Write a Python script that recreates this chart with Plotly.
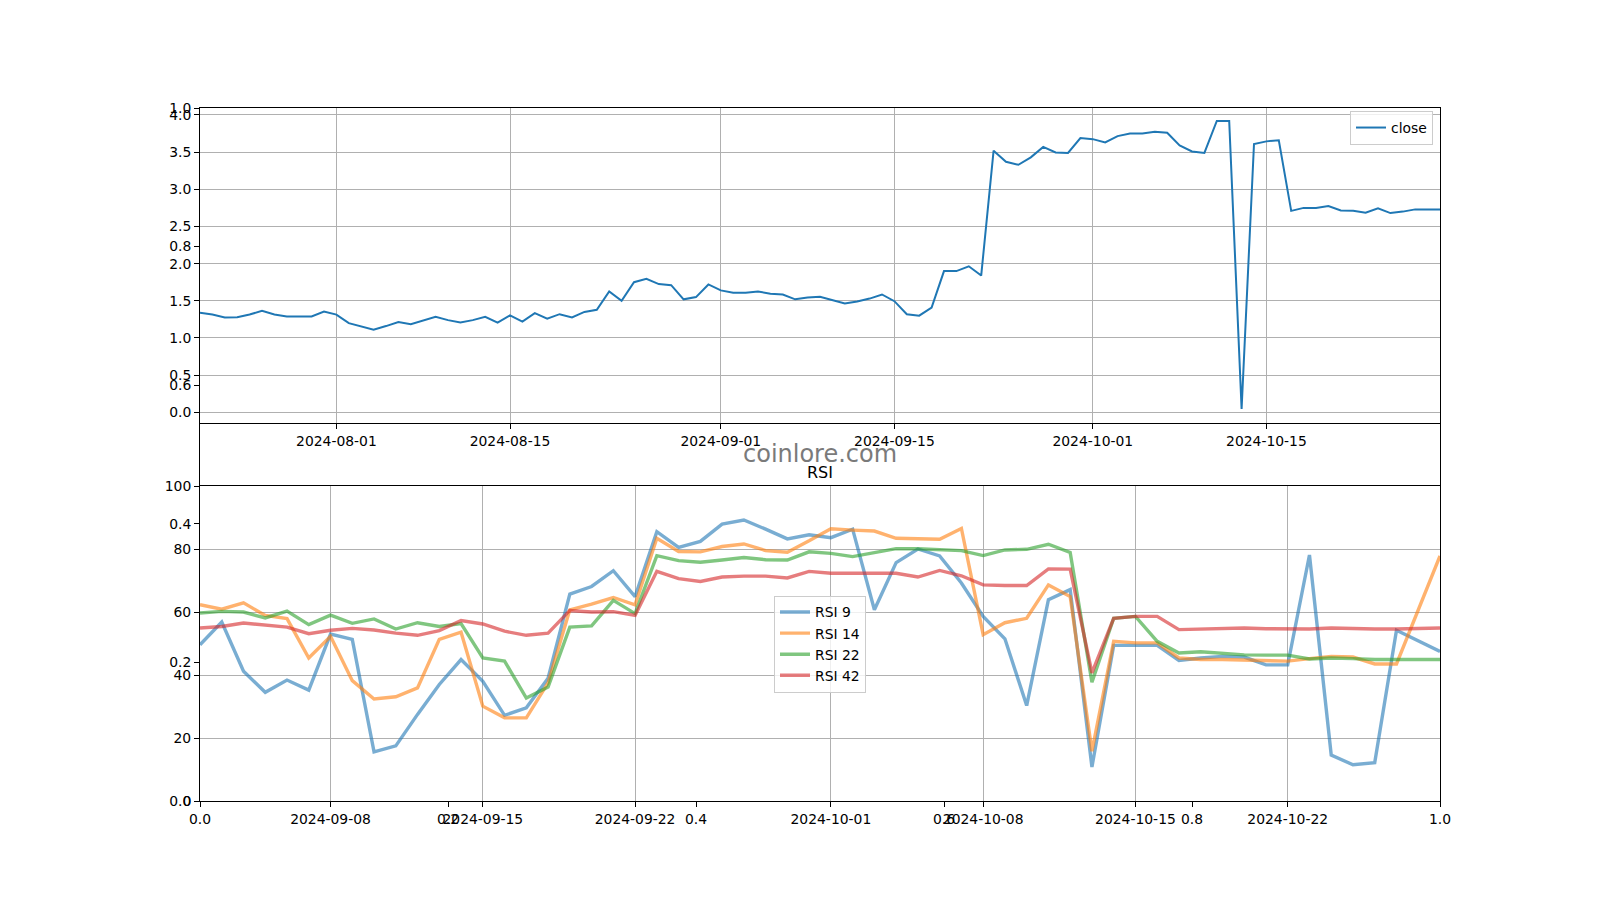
import pandas as pd
import plotly.graph_objects as go

# ---------------- data ----------------
close_start = "2024-07-21"
close_values = [
    1.338, 1.315, 1.275, 1.28, 1.315, 1.365, 1.315, 1.29, 1.29, 1.29,
    1.355, 1.315, 1.20, 1.16, 1.11, 1.16, 1.215, 1.185, 1.24, 1.285,
    1.24, 1.21, 1.24, 1.285, 1.205, 1.305, 1.22, 1.335, 1.26, 1.32,
    1.275, 1.35, 1.38, 1.626, 1.50, 1.75, 1.795, 1.725, 1.71, 1.52,
    1.55, 1.72, 1.64, 1.61, 1.61, 1.625, 1.595, 1.585, 1.52, 1.545,
    1.555, 1.515, 1.465, 1.49, 1.53, 1.585, 1.495, 1.32, 1.30, 1.41,
    1.90, 1.90, 1.964, 1.84, 3.52, 3.37, 3.33, 3.43, 3.57, 3.495,
    3.49, 3.69, 3.675, 3.63, 3.716, 3.75, 3.75, 3.775, 3.76, 3.59,
    3.51, 3.49, 3.92, 3.92, 0.045, 3.61, 3.645, 3.66, 2.71, 2.75,
    2.75, 2.775, 2.715, 2.71, 2.685, 2.745, 2.68, 2.70, 2.73, 2.73,
    2.73,
]
close_dates = pd.date_range(close_start, periods=len(close_values), freq="D")

rsi_start = "2024-09-02"
rsi_9 = [
    49.6, 56.8, 41.2, 34.5, 38.4, 35.2, 53.0, 51.3, 15.6, 17.5,
    27.5, 37.0, 44.9, 38.0, 27.2, 29.6, 39.0, 65.7, 68.1, 73.1,
    64.9, 85.5, 80.5, 82.4, 87.9, 89.2, 86.3, 83.2, 84.5, 83.6,
    86.3, 60.7, 75.7, 80.0, 77.8, 69.2, 58.6, 51.5, 30.3, 63.9,
    67.1, 10.8, 49.4, 49.4, 49.4, 44.6, 45.4, 45.9, 45.7, 43.2,
    43.2, 78.1, 14.6, 11.5, 12.2, 54.2, 50.7, 47.5,
]
rsi_14 = [
    62.3, 60.9, 62.9, 58.9, 57.9, 45.4, 52.3, 38.2, 32.4, 33.1,
    35.9, 51.3, 53.6, 30.1, 26.4, 26.4, 37.5, 60.7, 62.5, 64.6,
    62.3, 83.4, 79.2, 79.1, 80.8, 81.6, 79.5, 79.0, 82.6, 86.4,
    86.0, 85.7, 83.4, 83.3, 83.1, 86.5, 52.8, 56.6, 58.0, 68.6,
    64.9, 15.8, 50.7, 50.2, 50.2, 45.4, 44.9, 44.9, 44.7, 44.4,
    44.4, 45.2, 45.9, 45.7, 43.5, 43.5, 60.7, 77.8,
]
rsi_22 = [
    59.7, 60.2, 60.0, 58.1, 60.3, 56.0, 59.0, 56.4, 57.8, 54.6,
    56.6, 55.4, 56.3, 45.4, 44.4, 32.7, 36.2, 55.2, 55.6, 63.7,
    59.5, 77.9, 76.3, 75.8, 76.5, 77.3, 76.6, 76.5, 79.1, 78.6,
    77.6, 78.9, 80.1, 80.1, 79.9, 79.5, 77.9, 79.7, 79.9, 81.5,
    78.9, 37.7, 58.0, 58.6, 50.7, 47.0, 47.4, 46.9, 46.4, 46.3,
    46.3, 45.1, 45.4, 45.2, 44.9, 44.9, 44.9, 44.9,
]
rsi_42 = [
    54.9, 55.4, 56.5, 55.9, 55.2, 53.1, 54.2, 54.8, 54.3, 53.3,
    52.6, 54.1, 57.3, 56.2, 53.9, 52.6, 53.3, 60.5, 60.0, 60.1,
    58.9, 72.9, 70.6, 69.7, 71.1, 71.4, 71.4, 70.8, 72.9, 72.3,
    72.3, 72.3, 72.3, 71.1, 73.2, 71.5, 68.6, 68.4, 68.4, 73.7,
    73.6, 40.7, 58.0, 58.6, 58.6, 54.4, 54.6, 54.7, 54.9, 54.7,
    54.6, 54.6, 54.9, 54.7, 54.6, 54.6, 54.8, 54.9,
]
rsi_dates = pd.date_range(rsi_start, periods=len(rsi_9), freq="D")

rsi_series = [("RSI 9", rsi_9), ("RSI 14", rsi_14), ("RSI 22", rsi_22), ("RSI 42", rsi_42)]
rsi_colors = ["rgba(31,119,180,0.6)", "rgba(255,127,14,0.6)",
              "rgba(44,160,44,0.6)", "rgba(214,39,40,0.6)"]

close_ticks = ["2024-08-01", "2024-08-15", "2024-09-01", "2024-09-15", "2024-10-01", "2024-10-15"]
rsi_ticks = ["2024-09-08", "2024-09-15", "2024-09-22", "2024-10-01", "2024-10-08", "2024-10-15", "2024-10-22"]
frac_ticks = [0.0, 0.2, 0.4, 0.6, 0.8, 1.0]
close_yticks = [0.0, 0.5, 1.0, 1.5, 2.0, 2.5, 3.0, 3.5, 4.0]
rsi_yticks = [0, 20, 40, 60, 80, 100]
overbought, oversold = 70, 30

# ---------------- figure ----------------
FONT = "DejaVu Sans"
FS = 13.9
fig = go.Figure()

# invisible trace to materialise the background (figure-level) axes
fig.add_trace(go.Scatter(x=[0, 1], y=[0, 1], mode="none", xaxis="x", yaxis="y",
                         showlegend=False, hoverinfo="skip"))

fig.add_trace(go.Scatter(x=close_dates, y=close_values, mode="lines", name="close",
                         line=dict(color="#1f77b4", width=2), xaxis="x2", yaxis="y2",
                         legend="legend"))

for (name, vals), col in zip(rsi_series, rsi_colors):
    fig.add_trace(go.Scatter(x=rsi_dates, y=vals, mode="lines", name=name,
                             line=dict(color=col, width=3.4), xaxis="x3", yaxis="y3",
                             legend="legend2"))

common = dict(showline=True, linecolor="black", linewidth=1, mirror=True,
              ticks="outside", ticklen=5, tickwidth=1, tickcolor="black",
              zeroline=False, automargin=False,
              tickfont=dict(family=FONT, size=FS, color="black"))
grid = dict(showgrid=True, gridcolor="#b0b0b0", gridwidth=1)

L, R = 0.125, 0.9
fig.update_layout(
    width=1600, height=900, autosize=False,
    margin=dict(l=0, r=0, t=0, b=0, pad=0, autoexpand=False),
    paper_bgcolor="white", plot_bgcolor="white",
    font=dict(family=FONT, size=FS, color="black"),
    xaxis=dict(domain=[L, R], anchor="y", range=[0, 1], tickvals=frac_ticks,
               tickformat=".1f", showgrid=False, **common),
    yaxis=dict(domain=[0.11, 0.88], anchor="x", range=[0, 1], tickvals=frac_ticks,
               tickformat=".1f", showgrid=False, **common),
    xaxis2=dict(domain=[L, R], anchor="y2", type="date",
                range=[close_dates[0], close_dates[-1]],
                tickvals=close_ticks, tickformat="%Y-%m-%d", **grid, **common),
    yaxis2=dict(domain=[0.53, 0.88], anchor="x2", range=[-0.144, 4.094],
                tickvals=close_yticks, tickformat=".1f", **grid, **common),
    xaxis3=dict(domain=[L, R], anchor="y3", type="date",
                range=[rsi_dates[0], rsi_dates[-1]],
                tickvals=rsi_ticks, tickformat="%Y-%m-%d", **grid, **common),
    yaxis3=dict(domain=[0.11, 0.46], anchor="x3", range=[0, 100],
                tickvals=rsi_yticks, **grid, **common),
    legend=dict(x=1433 / 1600, y=1 - 111 / 900, xanchor="right", yanchor="top",
                bgcolor="rgba(255,255,255,0.8)", bordercolor="#cccccc", borderwidth=1,
                tracegroupgap=0, itemwidth=30,
                font=dict(family=FONT, size=FS, color="black")),
    legend2=dict(x=0.5125, y=1 - 644 / 900, xanchor="center", yanchor="middle",
                 bgcolor="rgba(255,255,255,0.8)", bordercolor="#cccccc", borderwidth=1,
                 tracegroupgap=0, itemwidth=30,
                 font=dict(family=FONT, size=FS, color="black")),
    showlegend=True,
)

# overbought / oversold zones and reference lines
fig.add_shape(type="rect", xref="x3 domain", yref="y3", x0=0, x1=1, y0=overbought, y1=100,
              fillcolor="rgba(255,0,0,0.12)", line=dict(width=0), layer="below")
fig.add_shape(type="rect", xref="x3 domain", yref="y3", x0=0, x1=1, y0=0, y1=oversold,
              fillcolor="rgba(0,0,255,0.12)", line=dict(width=0), layer="below")
fig.add_shape(type="line", xref="x3 domain", yref="y3", x0=0, x1=1, y0=overbought, y1=overbought,
              line=dict(color="rgb(190,20,30)", width=1.6, dash="dot"), layer="below")
fig.add_shape(type="line", xref="x3 domain", yref="y3", x0=0, x1=1, y0=oversold, y1=oversold,
              line=dict(color="rgb(0,0,139)", width=1.6, dash="dot"), layer="below")

# title and watermark
fig.add_annotation(text="RSI", xref="paper", yref="paper", x=0.5125, y=1 - 472.5 / 900,
                   xanchor="center", yanchor="middle", showarrow=False,
                   font=dict(family=FONT, size=16, color="black"))
fig.add_annotation(text="coinlore.com", xref="paper", yref="paper", x=0.5125, y=1 - 454 / 900,
                   xanchor="center", yanchor="middle", showarrow=False,
                   font=dict(family=FONT, size=24, color="#7a7a7a"))

fig.write_html("out.html")
